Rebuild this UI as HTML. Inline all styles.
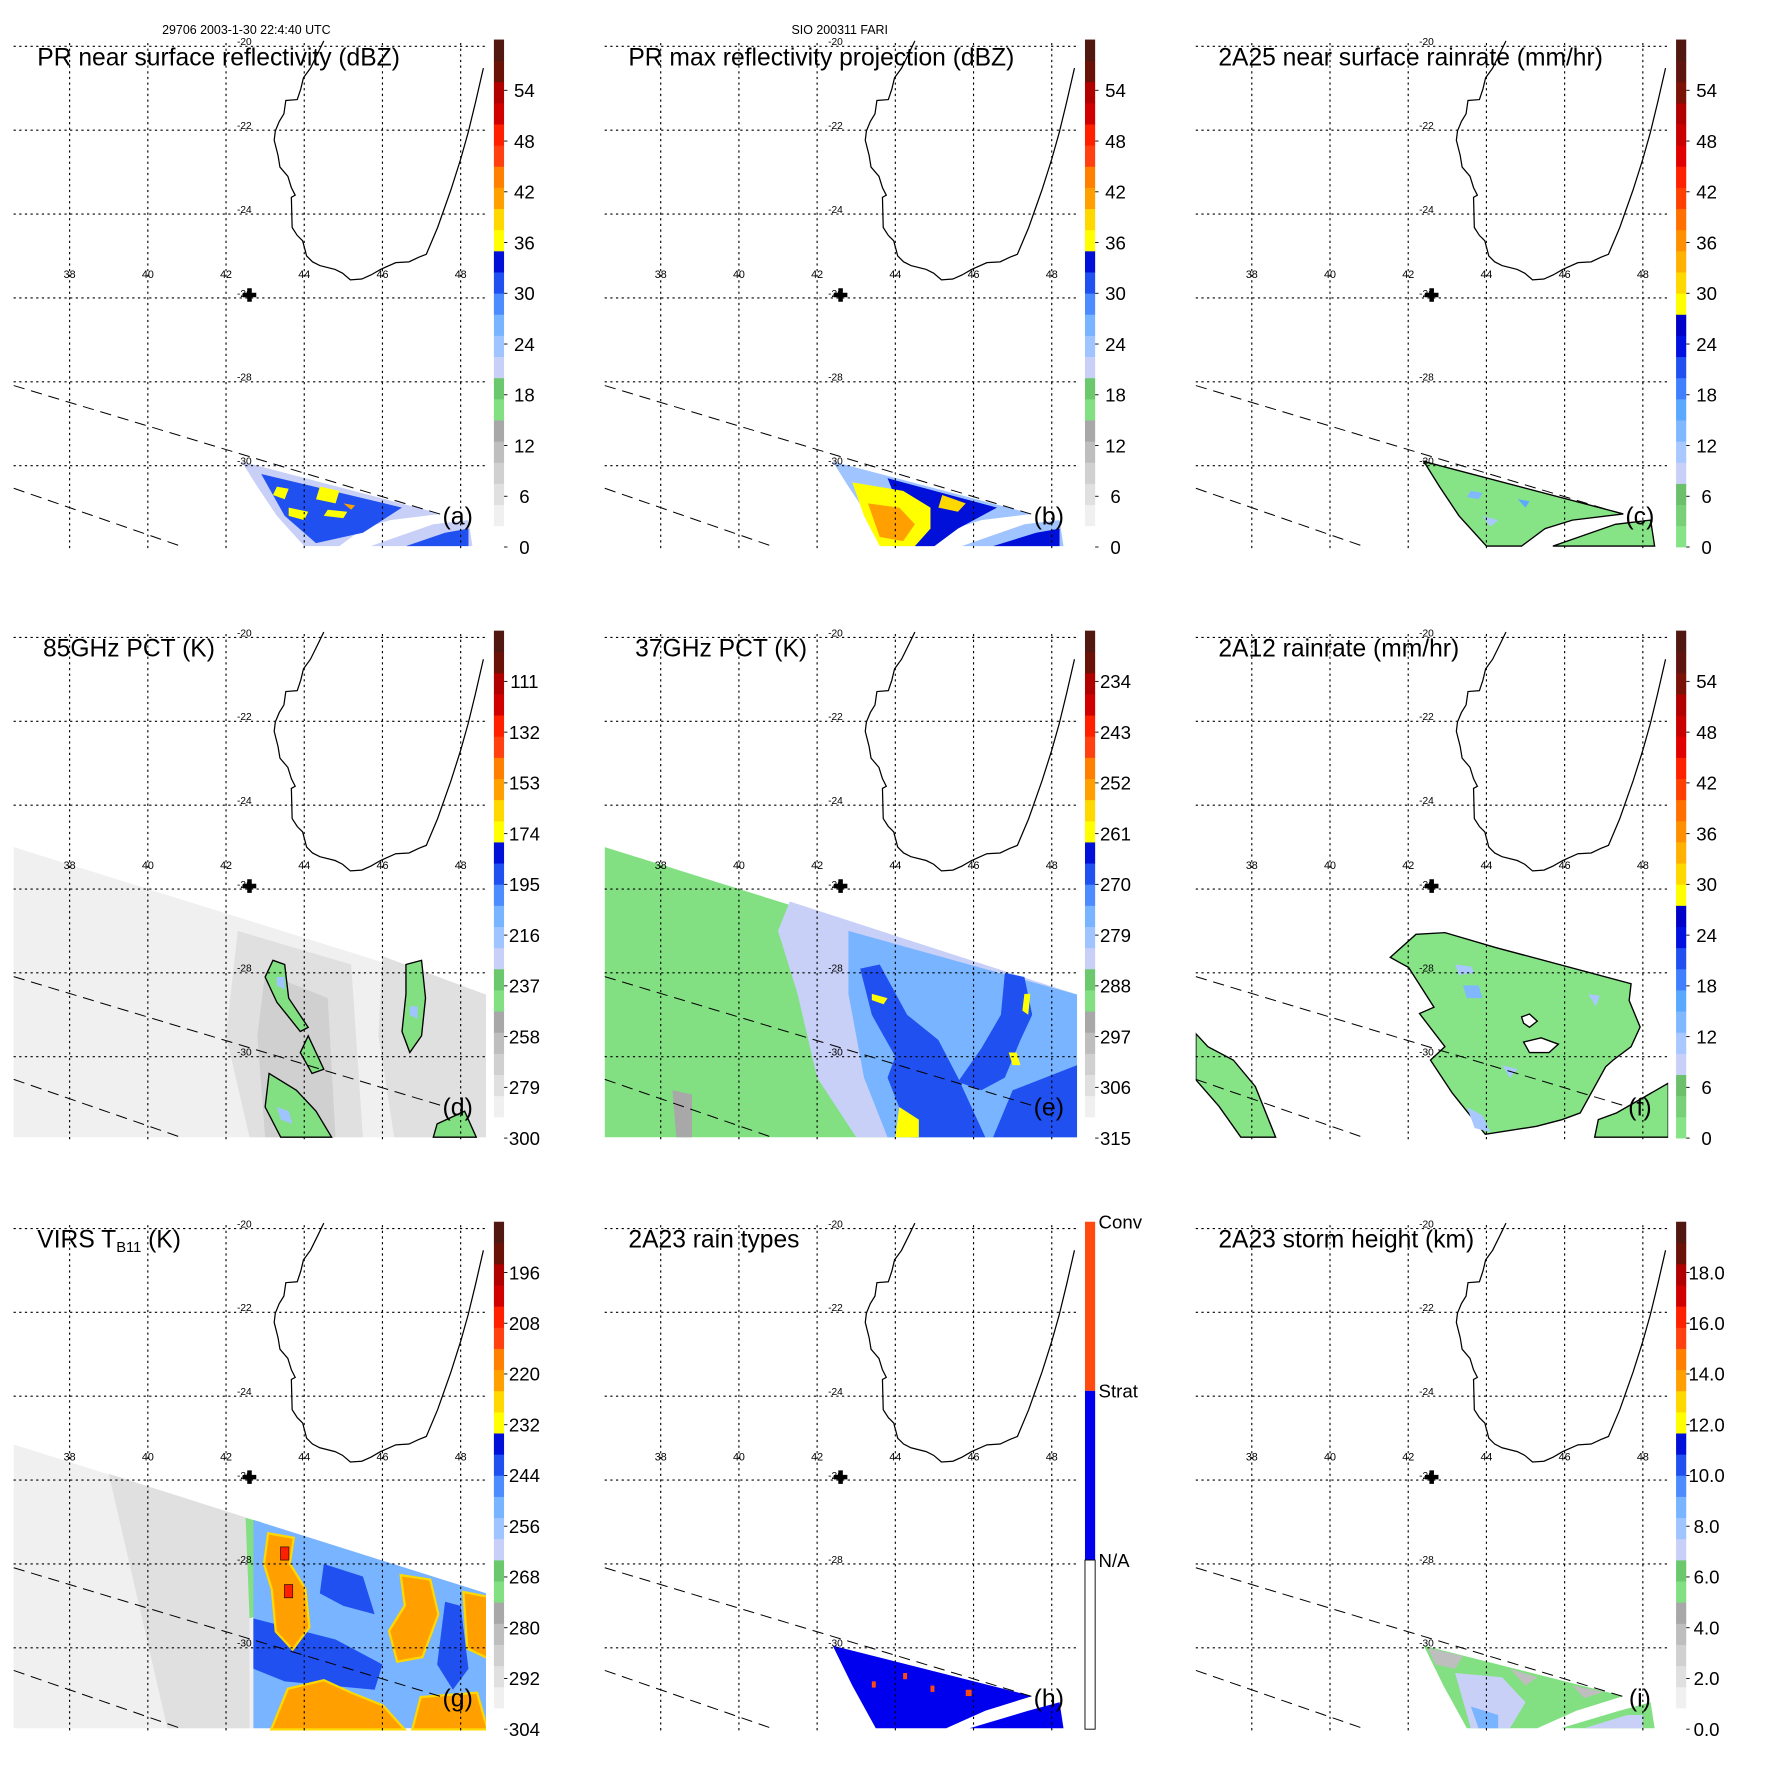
<!DOCTYPE html>
<html><head><meta charset="utf-8"><title>TRMM multi-panel</title>
<style>
html,body{margin:0;padding:0;background:#fff;}
svg{display:block;font-family:"Liberation Sans",Arial,sans-serif;}
</style></head>
<body>
<svg id="fig" xmlns="http://www.w3.org/2000/svg" width="1771" height="1771" viewBox="0 0 1567 1567">
<rect x="0" y="0" width="1567" height="1567" fill="#fff"/>
<text x="218" y="30" font-size="11" text-anchor="middle">29706 2003-1-30 22:4:40 UTC</text>
<text x="743" y="30" font-size="11" text-anchor="middle">SIO 200311 FARI</text>
<g id="panels"></g>
</svg>
<script>
// ---------- data ----------
const gridLons = [38,40,42,44,46,48];
const gridLats = [-20,-22,-24,-26,-28,-30];
const coastLon = [44.50,44.35,44.16,43.98,43.91,43.82,43.53,43.48,43.36,43.26,43.23,43.33,43.38,43.58,43.67,43.77,43.67,43.69,43.82,43.96,44.06,44.21,44.40,44.79,44.98,45.18,45.47,45.71,45.95,46.34,46.68,46.93,47.12,47.41,47.75,48.00,48.19,48.38,48.58];
const coastLat = [-19.87,-20.16,-20.52,-20.75,-21.02,-21.27,-21.29,-21.61,-21.79,-22.02,-22.24,-22.60,-22.88,-23.10,-23.37,-23.55,-23.60,-24.32,-24.51,-24.64,-25.00,-25.14,-25.23,-25.32,-25.41,-25.57,-25.55,-25.45,-25.32,-25.16,-25.14,-25.03,-24.96,-24.32,-23.42,-22.69,-22.06,-21.34,-20.52];
const siteLon = 42.6, siteLat = -25.93;
const swathUpper = [36.57,-28.09,47.49,-31.16];
const swathLower = [36.57,-30.54,40.84,-31.92];

const ticksA = ['0','6','12','18','24','30','36','42','48','54'];
const ticksD = ['300','279','258','237','216','195','174','153','132','111'];
const ticksE = ['315','306','297','288','279','270','261','252','243','234'];
const ticksG = ['304','292','280','268','256','244','232','220','208','196'];
const ticksI = ['0.0','2.0','4.0','6.0','8.0','10.0','12.0','14.0','16.0','18.0'];
const tickVals = [0,6,12,18,24,30,36,42,48,54];

const colorsA = ['#ffffff','#f0f0f0','#e0e0e0','#d0d0d0','#bebebe','#a8a8a8','#82e082','#6cc86c','#c8d0f8','#a0c4ff','#78b4ff','#4d8cff','#2050f0','#0010d8','#ffff00','#ffd800','#ffa000','#ff8000','#ff4010','#ff2000','#d00000','#b00000','#6a1208','#501810'];
const colorsC = ['#86e486','#78d078','#6cc06c','#c8d0f8','#a8c8ff','#80b8ff','#5aa8ff','#4080ff','#2050f0','#0010e0','#0000c8','#ffff00','#ffd800','#ffb000','#ff9000','#ff7000','#ff4000','#ff2000','#e00000','#c80000','#b00000','#7a1208','#601410','#501810'];

// regions: [value (colour bar units 0-60), lon,lat,...]
const regionsA = [
 [22,42.4,-29.9,47.5,-31.15,46.2,-31.3,45.5,-31.5,44.9,-31.92,44.0,-31.92,43.3,-31.2,42.8,-30.5],
 [22,45.7,-31.92,47.3,-31.4,48.2,-31.3,48.3,-31.92],
 [32,42.9,-30.2,46.5,-31.0,45.5,-31.6,44.3,-31.85,43.5,-31.2],
 [32,46.6,-31.92,47.6,-31.6,48.2,-31.5,48.2,-31.92],
 [36,43.3,-30.5,43.6,-30.55,43.5,-30.8,43.2,-30.7],
 [36,43.6,-31.0,44.1,-31.1,44.0,-31.3,43.6,-31.2],
 [37,44.4,-30.5,44.9,-30.6,44.8,-30.9,44.3,-30.8],
 [36,44.6,-31.05,45.1,-31.1,45.0,-31.25,44.5,-31.2],
 [41,45.0,-30.9,45.3,-30.95,45.2,-31.05]
];
const regionsB = [
 [24,42.4,-29.9,47.5,-31.15,46.2,-31.3,45.5,-31.5,44.9,-31.92,44.0,-31.92,43.3,-31.2,42.8,-30.5],
 [24,45.7,-31.92,47.3,-31.4,48.2,-31.3,48.3,-31.92],
 [33,43.8,-30.3,46.6,-31.0,45.6,-31.5,45.0,-31.92,44.5,-31.92],
 [33,46.5,-31.92,47.6,-31.6,48.2,-31.5,48.2,-31.92],
 [37,42.9,-30.4,44.2,-30.6,44.9,-31.0,44.9,-31.5,44.5,-31.92,43.6,-31.92,43.2,-31.2],
 [42,43.3,-30.9,44.1,-31.0,44.5,-31.4,44.2,-31.8,43.6,-31.7],
 [38,45.2,-30.7,45.8,-30.9,45.6,-31.1,45.1,-31.0]
];
const regionsC = [
 [2,42.4,-29.9,47.5,-31.15,46.2,-31.3,45.5,-31.5,44.9,-31.92,44.0,-31.92,43.3,-31.2,42.8,-30.5],
 [2,45.7,-31.92,47.3,-31.4,48.2,-31.3,48.3,-31.92],
 [14,43.6,-30.6,43.9,-30.65,43.8,-30.8,43.5,-30.75],
 [16,44.8,-30.8,45.1,-30.85,45.0,-31.0],
 [12,43.9,-31.2,44.3,-31.3,44.1,-31.45]
];
const regionsD = [
 [3,36.57,-25.0,48.65,-28.52,48.65,-31.92,36.57,-31.92],
 [6,42.3,-27.0,45.2,-27.8,45.5,-31.92,42.6,-31.92,42.0,-29.5],
 [6,46.0,-27.6,48.65,-28.52,48.65,-31.92,46.3,-31.92,45.9,-29.5],
 [8,43.0,-28.0,44.6,-28.6,44.8,-31.92,43.0,-31.92,42.8,-29.5],
 [16,43.2,-27.7,43.5,-27.8,43.6,-28.6,44.1,-29.3,43.9,-29.4,43.3,-28.7,43.0,-28.1],
 [16,44.1,-29.5,44.5,-30.3,44.2,-30.4,43.9,-29.9],
 [16,43.1,-30.4,43.8,-30.8,44.3,-31.3,44.7,-31.92,43.4,-31.92,43.0,-31.2],
 [16,46.6,-27.8,47.0,-27.7,47.1,-28.6,47.0,-29.5,46.7,-29.9,46.5,-29.4,46.6,-28.5],
 [16,47.4,-31.6,48.1,-31.3,48.4,-31.92,47.3,-31.92],
 [24,43.3,-28.1,43.5,-28.1,43.5,-28.4,43.3,-28.3],
 [23,46.7,-28.8,46.9,-28.8,46.9,-29.1,46.7,-29.0],
 [23,43.3,-31.2,43.6,-31.3,43.7,-31.6,43.4,-31.5]
];
const regionsE = [
 [17,36.57,-25.0,48.65,-28.52,48.65,-31.92,36.57,-31.92],
 [21,41.3,-26.3,48.65,-28.52,48.65,-31.92,43.0,-31.92,42.0,-30.5,41.5,-28.5,41.0,-27.0],
 [25,42.8,-27.0,48.65,-28.52,48.65,-31.92,43.8,-31.92,43.2,-30.5,42.8,-28.5],
 [32,43.1,-27.9,43.6,-27.8,44.3,-29.0,45.1,-29.6,45.6,-30.5,46.3,-31.92,44.4,-31.92,43.8,-30.5,44.0,-30.0,43.4,-29.0],
 [32,46.8,-28.0,47.3,-28.1,47.5,-29.0,47.2,-29.6,46.8,-30.5,46.2,-30.8,45.6,-30.6,46.2,-29.8,46.7,-29.0],
 [32,47.0,-30.8,48.65,-30.2,48.65,-31.92,46.5,-31.92],
 [35,44.1,-31.2,44.6,-31.5,44.6,-31.92,44.0,-31.92],
 [36,43.4,-28.5,43.8,-28.6,43.7,-28.75,43.4,-28.65],
 [36,44.2,-31.4,44.5,-31.45,44.4,-31.7,44.2,-31.6],
 [36,47.3,-28.5,47.45,-28.5,47.4,-29.0,47.25,-28.9],
 [36,46.9,-29.9,47.1,-29.9,47.2,-30.2,47.0,-30.2],
 [13,38.3,-30.8,38.8,-30.9,38.8,-31.92,38.4,-31.92]
];
const regionsF = [
 [2,42.20,-27.08,42.94,-27.04,44.25,-27.40,47.70,-28.26,47.65,-28.66,47.93,-29.29,47.70,-29.76,47.24,-30.08,47.05,-30.24,46.40,-31.34,45.93,-31.50,45.28,-31.66,43.97,-31.85,43.13,-30.87,42.57,-30.08,42.94,-29.76,42.29,-28.97,42.66,-28.82,42.01,-27.87,41.54,-27.63],
 [2,46.77,-31.92,46.86,-31.50,47.33,-31.34,48.65,-30.63,48.65,-31.92],
 [2,36.57,-29.45,36.88,-29.76,37.53,-30.08,38.09,-30.71,38.61,-31.92,37.72,-31.92,37.16,-31.18,36.57,-30.55],
 [12,43.2,-27.8,43.6,-27.85,43.7,-28.0,43.3,-28.05],
 [14,43.4,-28.3,43.8,-28.3,43.9,-28.6,43.5,-28.6],
 [12,46.6,-28.5,46.9,-28.55,46.8,-28.8],
 [12,44.4,-30.2,44.8,-30.3,44.6,-30.5],
 [10,43.5,-31.2,43.9,-31.4,44.1,-31.8,43.7,-31.7]
];
const regionsG = [
 [4,36.57,-25.15,48.65,-28.7,48.65,-31.92,36.57,-31.92],
 [6,39.0,-25.85,42.6,-26.92,42.6,-31.92,40.5,-31.92],
 [17,42.5,-26.9,42.9,-27.0,42.9,-29.2,42.6,-29.3],
 [26,42.7,-26.95,48.65,-28.7,48.65,-31.92,42.7,-31.92],
 [31,42.7,-29.3,44.8,-29.8,46.0,-30.4,45.8,-31.0,43.5,-30.8,42.7,-30.5],
 [31,44.5,-28.0,45.5,-28.3,45.8,-29.2,45.0,-29.0,44.4,-28.7],
 [31,47.6,-28.9,48.0,-29.0,48.2,-30.5,47.8,-31.0,47.4,-30.4]
];
const blobsG = [
 [42,43.1,-27.3,43.7,-27.4,43.6,-28.0,44.0,-28.6,44.1,-29.5,43.7,-30.0,43.3,-29.6,43.2,-28.6,43.0,-28.0],
 [42,43.6,-31.0,44.5,-30.8,45.2,-31.1,46.0,-31.4,46.5,-31.92,43.2,-31.92],
 [42,46.5,-28.3,47.2,-28.4,47.4,-29.2,47.0,-30.2,46.4,-30.3,46.2,-29.6,46.6,-29.0],
 [42,48.1,-28.7,48.65,-28.8,48.65,-30.2,48.2,-30.0],
 [42,47.0,-31.2,48.4,-31.1,48.65,-31.92,46.8,-31.92],
 [48,43.4,-27.6,43.6,-27.6,43.6,-27.9,43.4,-27.9],
 [48,43.5,-28.5,43.7,-28.5,43.7,-28.8,43.5,-28.8]
];
const regionsH = [
 [32,42.4,-29.95,47.5,-31.15,46.3,-31.5,45.3,-31.92,43.5,-31.92,42.9,-30.9],
 [32,45.9,-31.92,47.4,-31.5,48.2,-31.3,48.3,-31.92],
 [44,44.2,-30.6,44.3,-30.6,44.3,-30.75,44.2,-30.75],
 [44,44.9,-30.9,45.0,-30.9,45.0,-31.05,44.9,-31.05],
 [44,45.8,-31.0,45.95,-31.0,45.95,-31.15,45.8,-31.15],
 [44,43.4,-30.8,43.5,-30.8,43.5,-30.95,43.4,-30.95]
];
const regionsI = [
 [16,42.4,-29.95,47.5,-31.15,46.3,-31.5,45.3,-31.92,43.5,-31.92,42.9,-30.9],
 [16,45.9,-31.92,47.4,-31.5,48.2,-31.3,48.3,-31.92],
 [12,42.5,-30.0,43.4,-30.2,43.2,-30.5,42.7,-30.4],
 [12,44.6,-30.5,45.3,-30.7,45.0,-30.9],
 [12,46.2,-30.9,47.0,-31.05,46.5,-31.2],
 [22,43.2,-30.6,44.4,-30.7,45.0,-31.3,44.6,-31.92,43.6,-31.92],
 [26,43.6,-31.4,44.3,-31.6,44.3,-31.92,43.8,-31.92],
 [21,46.5,-31.92,47.6,-31.6,48.0,-31.6,48.0,-31.92]
];
const holesF = [
 [44.9,-29.05,45.1,-28.98,45.3,-29.15,45.1,-29.3,44.95,-29.2],
 [44.95,-29.65,45.4,-29.55,45.84,-29.7,45.6,-29.9,45.1,-29.9]
];

// ---------- drawing ----------
const NS = 'http://www.w3.org/2000/svg';
const root = document.getElementById('panels');
function mk(tag, attrs, parent){
  const e = document.createElementNS(NS, tag);
  for (const k in attrs) e.setAttribute(k, attrs[k]);
  (parent||root).appendChild(e);
  return e;
}
function colorOf(cm, v){ const i = Math.max(0, Math.min(23, Math.floor(v/2.5))); return cm[i]; }

const panels = [
 {id:'a',col:0,row:0,title:'PR near surface reflectivity (dBZ)',tx:33,cm:colorsA,ticks:ticksA,regions:regionsA},
 {id:'b',col:1,row:0,title:'PR max reflectivity projection (dBZ)',tx:556,cm:colorsA,ticks:ticksA,regions:regionsB},
 {id:'c',col:2,row:0,title:'2A25 near surface rainrate (mm/hr)',tx:1078,cm:colorsC,ticks:ticksA,regions:regionsC},
 {id:'d',col:0,row:1,title:'85GHz PCT (K)',tx:38,cm:colorsA,ticks:ticksD,regions:regionsD},
 {id:'e',col:1,row:1,title:'37GHz PCT (K)',tx:562,cm:colorsA,ticks:ticksE,regions:regionsE},
 {id:'f',col:2,row:1,title:'2A12 rainrate (mm/hr)',tx:1078,cm:colorsC,ticks:ticksA,regions:regionsF},
 {id:'g',col:0,row:2,title:'VIRS',tx:33,cm:colorsA,ticks:ticksG,regions:regionsG},
 {id:'h',col:1,row:2,title:'2A23 rain types',tx:556,cm:null,ticks:null,regions:regionsH},
 {id:'i',col:2,row:2,title:'2A23 storm height (km)',tx:1078,cm:colorsA,ticks:ticksI,regions:regionsI}
];

panels.forEach(p => {
  const ox = p.col*523, oy = p.row*523;
  const X = lon => ox + 200 + (lon-42)*34.6;
  const Y = lat => oy + 41 + (-20-lat)*37.1;
  const pts = arr => { let s=''; for(let i=0;i<arr.length;i+=2) s += X(arr[i]).toFixed(1)+','+Y(arr[i+1]).toFixed(1)+' '; return s; };
  const g = mk('g', {});
  
  
  const cp = mk('clipPath', {id:'clip-'+p.id}, g);
  mk('rect', {x:ox+12, y:oy+36, width:418, height:450}, cp);
  const field = mk('g', {'clip-path':'url(#clip-'+p.id+')'}, g);
  
  
  const cmap = p.cm || colorsA;
  p.regions.forEach(r => {
    const v = r[0];
    let fill;
    if (p.id==='h') fill = v>40 ? '#ff4a10' : '#0000ee';
    else fill = colorOf(cmap, v);
    const outl = (p.id==='f' && v<7) || (p.id==='c' && v<7) || (p.id==='d' && v===16);
    const poly = mk('polygon', {points:pts(r.slice(1)), fill:fill, stroke: outl ? '#000':'none', 'stroke-width':1.2}, field);
    
    
  });
  if (p.id==='g') {
    blobsG.forEach(r => {
      const poly = mk('polygon', {points:pts(r.slice(1)), fill:colorOf(colorsA,r[0]), stroke:r[0]>45?'#000':'#ffd800', 'stroke-width':r[0]>45?1:4, 'paint-order':'stroke'}, field);
      
      
    });
  }
  if (p.id==='f') {
    holesF.forEach(h => {
      const poly = mk('polygon', {points:pts(h), fill:'#fff', stroke:'#000', 'stroke-width':1.2}, field);
      
      
    });
  }
  // grid
  const grid = mk('g', {stroke:'#000','stroke-width':1,'stroke-dasharray':'2 3',fill:'none'}, g);
  
  
  gridLons.forEach(lon => { mk('line',{x1:X(lon),x2:X(lon),y1:oy+38,y2:oy+486},grid); });
  gridLats.forEach(lat => { mk('line',{x1:ox+12,x2:ox+430,y1:Y(lat),y2:Y(lat)},grid); });
  gridLons.forEach(lon => {
    const t = mk('text',{x:X(lon),y:Y(-25.5)+1,'font-size':9.5,'text-anchor':'middle'},g);
    t.textContent = String(lon);
    
    
  });
  gridLats.forEach(lat => {
    const t = mk('text',{x:X(42.28),y:Y(lat)-1,'font-size':9,'text-anchor':'start'},g);
    t.textContent = String(lat);
    
    
  });
  // swath dashed
  const sw = mk('g',{stroke:'#000','stroke-width':0.9,'stroke-dasharray':'10 6'},g);
  
  
  mk('line',{x1:X(swathUpper[0]),y1:Y(swathUpper[1]),x2:X(swathUpper[2]),y2:Y(swathUpper[3])},sw);
  mk('line',{x1:X(swathLower[0]),y1:Y(swathLower[1]),x2:X(swathLower[2]),y2:Y(swathLower[3])},sw);
  // coast
  let cs=''; coastLon.forEach((lo,i)=>{ cs += X(lo).toFixed(1)+','+Y(coastLat[i]).toFixed(1)+' '; });
  const coast = mk('polyline',{points:cs,fill:'none',stroke:'#000','stroke-width':1.1},g);
  
  
  // site cross
  const cx = X(siteLon), cy = Y(siteLat);
  const cr = mk('path',{d:`M${cx-2},${cy-6}h4v4h4v4h-4v4h-4v-4h-4v-4h4z`,fill:'#000'},g);
  
  
  // title
  const tt = mk('text',{x:p.tx,y:oy+58,'font-size':21.8},g);
  if (p.id==='g') {
    tt.textContent = 'VIRS T';
    const sub = mk('tspan',{'font-size':13,dy:4},tt); sub.textContent='B11';
    const rest = mk('tspan',{dy:-4},tt); rest.textContent=' (K)';
  } else tt.textContent = p.title;
  
  
  const lab = mk('text',{x:ox+405,y:oy+464,'font-size':22,'text-anchor':'middle'},g);
  lab.textContent = '('+p.id+')';
  
  
  // colorbar
  const cb = mk('g',{},g);
  
  
  const top = oy+35, bot = oy+484, bx = ox+437, bw = 9;
  if (p.cm) {
    const h = (bot-top)/24;
    p.cm.forEach((c,i)=>{ mk('rect',{x:bx,y:bot-(i+1)*h,width:bw,height:h+0.3,fill:c},cb); });
    p.ticks.forEach((lbl,i)=>{
      const yy = bot - tickVals[i]*(bot-top)/60;
      mk('line',{x1:bx+bw,x2:bx+bw+3,y1:yy,y2:yy,stroke:'#000','stroke-width':0.8},cb);
      const t = mk('text',{x:bx+27,y:yy+6,'font-size':16.5,'text-anchor':'middle'},cb);
      t.textContent = lbl;
      
      
    });
  } else {
    const h3 = (bot-top)/3;
    mk('rect',{x:bx,y:top,width:bw,height:h3,fill:'#ff4a10'},cb);
    mk('rect',{x:bx,y:top+h3,width:bw,height:h3,fill:'#0000ee'},cb);
    mk('rect',{x:bx,y:top+2*h3,width:bw,height:h3,fill:'#fff',stroke:'#000','stroke-width':0.8},cb);
    const names = ['Conv','Strat','N/A'];
    names.forEach((n,i)=>{
      const t = mk('text',{x:bx+12,y:top+i*h3+6,'font-size':16.5},cb);
      t.textContent = n;
      
      
    });
  }
});
</script>
</body></html>
